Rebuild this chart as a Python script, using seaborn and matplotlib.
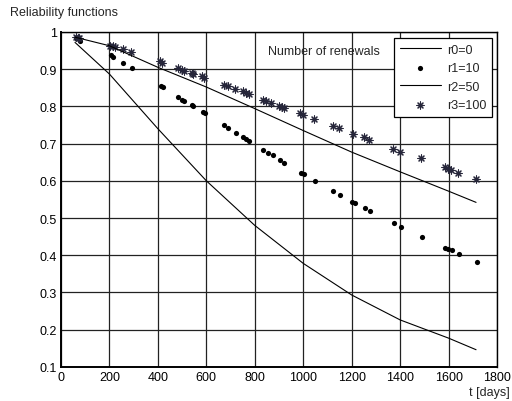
import numpy as np
import pandas as pd
import matplotlib
matplotlib.use('Agg')
import matplotlib.pyplot as plt
import seaborn as sns

# r0 = 0 renewals (line)
t0 = [58, 200, 400, 600, 800, 1000, 1200, 1400, 1600, 1713]
v0 = [0.972, 0.887, 0.740, 0.600, 0.480, 0.378, 0.293, 0.226, 0.177, 0.146]

# r1 = 10 renewals (dots)
t1 = [62, 67, 78, 207, 216, 257, 292, 413, 420, 484, 498, 508, 539, 547, 588, 596,
      674, 691, 722, 751, 764, 775, 835, 855, 874, 904, 920, 990, 1002, 1049, 1123,
      1150, 1203, 1213, 1255, 1276, 1376, 1404, 1489, 1583, 1599, 1613, 1643, 1716]
v1 = [0.985, 0.983, 0.977, 0.938, 0.932, 0.917, 0.903, 0.856, 0.853, 0.825, 0.818,
      0.814, 0.804, 0.801, 0.785, 0.782, 0.749, 0.741, 0.728, 0.717, 0.711, 0.706,
      0.682, 0.675, 0.668, 0.655, 0.649, 0.621, 0.617, 0.600, 0.572, 0.563, 0.542,
      0.539, 0.527, 0.519, 0.487, 0.476, 0.449, 0.420, 0.416, 0.414, 0.403, 0.381]

# r2 = 50 renewals (line)
t2 = [58, 200, 400, 600, 800, 1000, 1200, 1400, 1600, 1713]
v2 = [0.986, 0.963, 0.905, 0.852, 0.794, 0.735, 0.677, 0.624, 0.572, 0.542]

# r3 = 100 renewals (stars)
t3 = [61, 69, 75, 202, 213, 223, 255, 289, 409, 418, 484, 498, 509, 540, 545, 583,
      592, 672, 688, 718, 752, 765, 777, 833, 846, 867, 901, 911, 921, 986, 998, 1046,
      1122, 1147, 1207, 1252, 1273, 1369, 1401, 1484, 1583, 1597, 1610, 1638, 1713]
v3 = [0.987, 0.985, 0.983, 0.963, 0.961, 0.959, 0.953, 0.947, 0.921, 0.917, 0.903,
      0.898, 0.895, 0.890, 0.887, 0.881, 0.877, 0.858, 0.855, 0.848, 0.840, 0.836,
      0.833, 0.818, 0.814, 0.809, 0.801, 0.797, 0.795, 0.782, 0.778, 0.766, 0.746,
      0.741, 0.727, 0.718, 0.709, 0.686, 0.677, 0.660, 0.637, 0.633, 0.630, 0.622, 0.604]

xticks = [0, 200, 400, 600, 800, 1000, 1200, 1400, 1600, 1800]
yticks = [0.1, 0.2, 0.3, 0.4, 0.5, 0.6, 0.7, 0.8, 0.9, 1.0]
ytick_labels = ['0.1', '0.2', '0.3', '0.4', '0.5', '0.6', '0.7', '0.8', '0.9', '1']

sns.set_style('white')
plt.rcParams['font.family'] = ['Liberation Sans', 'DejaVu Sans']

fig = plt.figure(figsize=(5.12, 4.02), dpi=100)
ax = fig.add_axes([0.119, 0.085, 0.852, 0.833])

sns.lineplot(x=t0, y=v0, ax=ax, color='black', lw=0.8, label='r0=0')
sns.scatterplot(x=t1, y=v1, ax=ax, color='black', marker='o', s=14,
                edgecolor='black', linewidth=0, label='r1=10')
sns.lineplot(x=t2, y=v2, ax=ax, color='black', lw=0.8, label='r2=50')
sns.scatterplot(x=t3, y=v3, ax=ax, color='#26263a', marker=(8, 2, 0), s=26,
                linewidth=0.8, label='r3=100')

ax.set_xlim(0, 1800)
ax.set_ylim(0.1, 1.0)
ax.set_xticks(xticks)
ax.set_xticklabels([str(x) for x in xticks])
ax.set_yticks(yticks)
ax.set_yticklabels(ytick_labels)
ax.tick_params(direction='in', length=3, labelsize=9, colors='black', pad=3)
ax.grid(True, color='#222222', lw=0.9, ls='-')
for s in ax.spines.values():
    s.set_color('black')
    s.set_linewidth(1.0)
ax.spines['left'].set_linewidth(1.4)
ax.spines['bottom'].set_linewidth(1.4)

ax.set_xlabel('')
ax.set_ylabel('')
fig.text(0.02, 0.967, 'Reliability functions', fontsize=9, ha='left', va='center')
fig.text(0.995, 0.022, 't [days]', fontsize=9, ha='right', va='center')
ax.text(0.475, 0.943, 'Number of renewals', transform=ax.transAxes, fontsize=9,
        ha='left', va='center')

leg = ax.legend(loc='upper left', bbox_to_anchor=(0.764, 0.982), fontsize=9,
                frameon=True, fancybox=False, framealpha=1, edgecolor='black',
                handlelength=3.3, borderpad=0.45, labelspacing=0.52, handletextpad=0.5,
                borderaxespad=0)
leg.get_frame().set_linewidth(0.9)

fig.savefig('out.png', dpi=100)
